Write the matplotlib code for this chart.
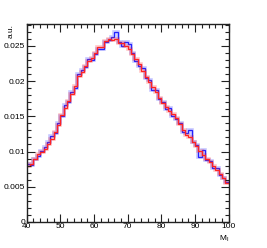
import numpy as np
import matplotlib
matplotlib.use("Agg")
import matplotlib.pyplot as plt
from matplotlib.ticker import MultipleLocator, FuncFormatter

plt.rcParams["font.family"] = ["Liberation Sans", "DejaVu Sans"]

edges = np.arange(40, 101, 1)

red = [0.0079, 0.0083, 0.0089, 0.0096, 0.0099, 0.0104, 0.0111, 0.0118, 0.0128, 0.0138,
       0.0152, 0.0162, 0.0172, 0.0181, 0.0193, 0.0207, 0.0213, 0.0222, 0.0228, 0.0233,
       0.0240, 0.0248, 0.0248, 0.0257, 0.0260, 0.0258, 0.0260, 0.0254, 0.0254, 0.0250,
       0.0245, 0.0238, 0.0232, 0.0224, 0.0214, 0.0206, 0.0199, 0.0191, 0.0184, 0.0176,
       0.0169, 0.0163, 0.0158, 0.0153, 0.0148, 0.0139, 0.0131, 0.0124, 0.0120, 0.0114,
       0.0108, 0.0101, 0.0095, 0.0089, 0.0085, 0.0079, 0.0074, 0.0068, 0.0062, 0.0056]

blue = [0.0082, 0.0081, 0.0090, 0.0094, 0.0101, 0.0107, 0.0114, 0.0122, 0.0126, 0.0141,
        0.0150, 0.0166, 0.0170, 0.0184, 0.0190, 0.0210, 0.0216, 0.0220, 0.0232, 0.0230,
        0.0238, 0.0245, 0.0246, 0.0256, 0.0258, 0.0263, 0.0269, 0.0256, 0.0250, 0.0256,
        0.0252, 0.0240, 0.0229, 0.0222, 0.0218, 0.0204, 0.0201, 0.0188, 0.0187, 0.0174,
        0.0171, 0.0160, 0.0162, 0.0150, 0.0146, 0.0141, 0.0128, 0.0127, 0.0131, 0.0113,
        0.0109, 0.0092, 0.0102, 0.0088, 0.0087, 0.0077, 0.0076, 0.0067, 0.0063, 0.0057]

fig = plt.figure(figsize=(2.67, 2.48), dpi=100)
ax = fig.add_axes([26.7/267, 26/248, (228.7-26.7)/267, (222-24)/248])

for vals, col in ((blue, "#2222ff"), (red, "#ff2222")):
    v = np.array(vals)
    ax.stairs(v, edges, color=col, lw=2.6, alpha=0.25, baseline=None)
    ax.stairs(v, edges, color=col, lw=0.9, baseline=None)

ax.set_xlim(40, 100)
ax.set_ylim(0, 0.0281)
ax.xaxis.set_major_locator(MultipleLocator(10))
ax.xaxis.set_minor_locator(MultipleLocator(2))
ax.yaxis.set_major_locator(MultipleLocator(0.005))
ax.yaxis.set_minor_locator(MultipleLocator(0.001))
ax.xaxis.set_major_formatter(FuncFormatter(lambda v, p: "%g" % round(v, 6)))
ax.yaxis.set_major_formatter(FuncFormatter(lambda v, p: "%g" % round(v, 6)))
ax.tick_params(which="both", direction="in", top=True, right=True, labelsize=6,
               width=0.8, colors="#222222", labelcolor="black", pad=1)
ax.tick_params(which="major", length=6)
ax.tick_params(which="minor", length=3)
for s in ax.spines.values():
    s.set_linewidth(1.0)
    s.set_color("#222222")
ax.text(-0.075, 1.0, "a.u.", transform=ax.transAxes, rotation=90, fontsize=6,
        ha="center", va="top")
ax.text(1.0, -0.06, r"M$_{\rm l}$", transform=ax.transAxes, fontsize=6,
        ha="right", va="top")
fig.savefig("out.png", dpi=100)
